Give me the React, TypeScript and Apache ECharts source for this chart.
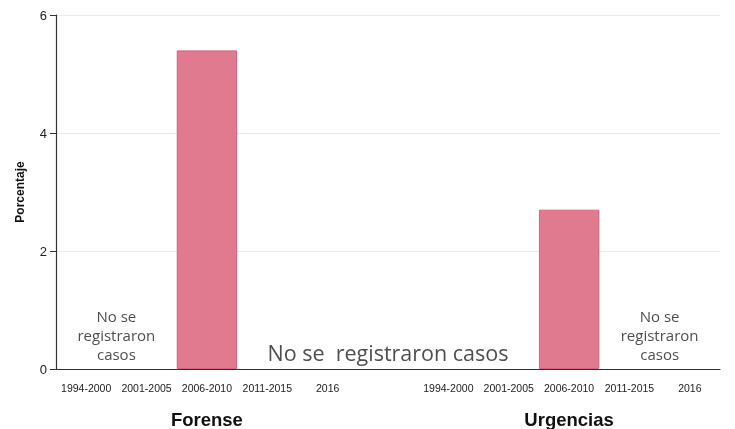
import React, { useEffect, useRef } from "react";
import * as echarts from "echarts";

const periods = ["1994-2000", "2001-2005", "2006-2010", "2011-2015", "2016"];
const groups = ["Forense", "Urgencias"];
const forense = [null, null, 5.4, null, null];
const urgencias = [null, null, 2.7, null, null];
const yTicks = { min: 0, max: 6, interval: 2 };
const noteSmall = "No se\nregistraron\ncasos";
const noteLarge = "No se  registraron casos";

export default function App() {
  const ref = useRef<HTMLDivElement>(null);
  useEffect(() => {
    if (!ref.current) return;
    const chart = echarts.init(ref.current, undefined, { renderer: "svg" });
    const cats = [...periods, "", ...periods];
    const values = [...forense, null, ...urgencias];
    const groupCats = cats.map((_, i) => (i === 2 ? groups[0] : i === 8 ? groups[1] : ""));
    const n = cats.length;
    chart.setOption({
      animation: false,
      grid: { left: 56, right: 15, top: 15, bottom: 60 },
      xAxis: [
        {
          type: "category",
          data: cats,
          axisLine: { lineStyle: { color: "#333", width: 1.2 } },
          axisTick: {
            alignWithLabel: true,
            length: 6,
            interval: (i: number) => cats[i] !== "",
            lineStyle: { color: "#333" },
          },
          axisLabel: {
            interval: 0,
            fontSize: 10.5,
            color: "#222",
            fontFamily: "Liberation Sans, Arial, sans-serif",
            margin: 13,
          },
        },
        {
          type: "category",
          data: groupCats,
          position: "bottom",
          axisLine: { show: false },
          axisTick: { show: false },
          axisLabel: {
            interval: 0,
            fontSize: 18.5,
            fontWeight: "bold",
            color: "#111",
            fontFamily: "Liberation Sans, Arial, sans-serif",
            margin: 41,
          },
        },
        { type: "value", min: 0, max: n, show: false },
      ],
      yAxis: {
        type: "value",
        min: yTicks.min,
        max: yTicks.max,
        interval: yTicks.interval,
        name: "Porcentaje",
        nameLocation: "middle",
        nameGap: 30,
        nameTextStyle: {
          fontSize: 12,
          fontWeight: "bold",
          color: "#111",
          fontFamily: "Liberation Sans, Arial, sans-serif",
        },
        axisLine: { show: true, lineStyle: { color: "#333", width: 1.2 } },
        axisTick: { show: true, length: 6, lineStyle: { color: "#333" } },
        axisLabel: {
          fontSize: 13,
          color: "#222",
          fontFamily: "Liberation Sans, Arial, sans-serif",
          margin: 9,
        },
        splitLine: { lineStyle: { color: "#e6edf1" } },
      },
      series: [
        {
          type: "bar",
          data: values,
          barWidth: "100%",
          itemStyle: { color: "#e07a8f", borderColor: "#d9627b", borderWidth: 1 },
        },
        {
          type: "scatter",
          xAxisIndex: 2,
          symbolSize: 0,
          silent: true,
          label: {
            show: true,
            position: "inside",
            color: "#222",
            fontFamily: "Open Sans, sans-serif",
            formatter: (p: any) => p.name,
          },
          data: [
            { name: noteSmall, value: [1, 0.58], label: { fontSize: 15, lineHeight: 19 } },
            { name: noteLarge, value: [5.5, 0.28], label: { fontSize: 21.5 } },
            { name: noteSmall, value: [10, 0.58], label: { fontSize: 15, lineHeight: 19 } },
          ],
        },
      ],
    });
    return () => chart.dispose();
  }, []);
  return (
    <div
      ref={ref}
      style={{ position: "fixed", left: 0, top: 0, width: 735, height: 429 }}
    />
  );
}
